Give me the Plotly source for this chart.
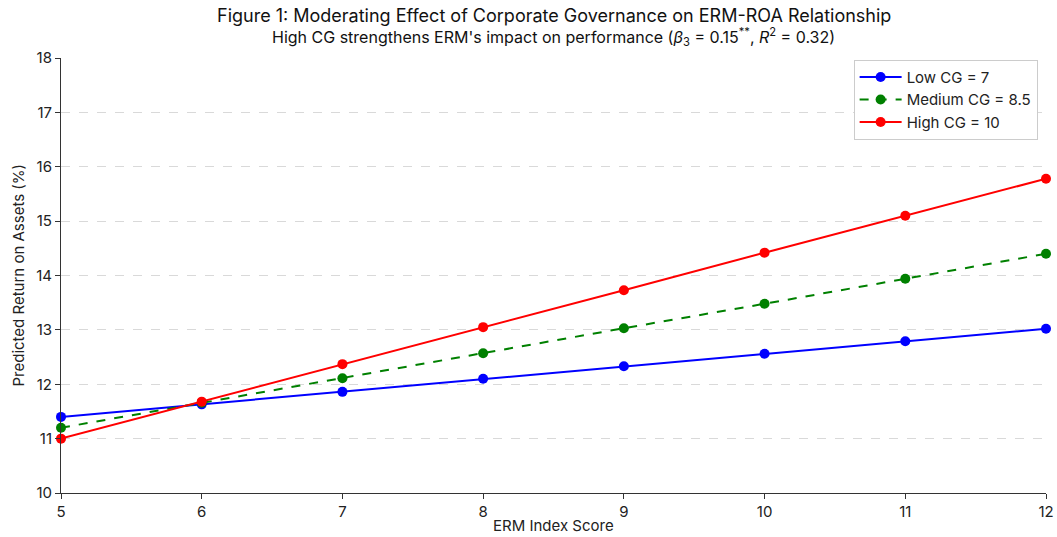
import plotly.graph_objects as go

# ERM index scores on the x axis
erm_scores = [5, 6, 7, 8, 9, 10, 11, 12]

# Predicted ROA (%) at three levels of corporate governance
roa_low_cg = [11.40, 11.63, 11.86, 12.10, 12.33, 12.56, 12.79, 13.02]
roa_medium_cg = [11.20, 11.66, 12.11, 12.57, 13.03, 13.48, 13.94, 14.40]
roa_high_cg = [11.00, 11.68, 12.37, 13.05, 13.73, 14.42, 15.10, 15.78]

series_names = ["Low CG = 7", "Medium CG = 8.5", "High CG = 10"]
series_colors = ["#0000ff", "#008000", "#ff0000"]
series_dashes = ["solid", "dash", "solid"]

x_ticks = [5, 6, 7, 8, 9, 10, 11, 12]
y_ticks = [10, 11, 12, 13, 14, 15, 16, 17, 18]

title_text = "Figure 1: Moderating Effect of Corporate Governance on ERM-ROA Relationship"
subtitle_text = ("High CG strengthens ERM's impact on performance "
                 "(<i>β</i><sub>3</sub> = 0.15<sup>**</sup>, <i>R</i><sup>2</sup> = 0.32)")
x_title = "ERM Index Score"
y_title = "Predicted Return on Assets (%)"

FONT = "Inter, Roboto, sans-serif"

# Plot area in pixels: left 61, right 1046, top 58, bottom 493
M_L, M_R, M_T, M_B = 61, 11, 58, 44
PLOT_H = 537 - M_T - M_B
PLOT_W = 1057 - M_L - M_R

fig = go.Figure()
for name, ys, color, dash in zip(series_names,
                                 [roa_low_cg, roa_medium_cg, roa_high_cg],
                                 series_colors, series_dashes):
    fig.add_trace(go.Scatter(
        x=erm_scores, y=ys, name=name, mode="lines+markers",
        line=dict(color=color, width=2, dash=dash),
        marker=dict(color=color, size=10),
        cliponaxis=False,
    ))

annotations = [
    dict(text=title_text, x=0.5, y=1 + (M_T - 15) / PLOT_H, xref="paper", yref="paper",
         xanchor="center", yanchor="middle", showarrow=False,
         font=dict(size=18, family=FONT, color="#111111")),
    dict(text=subtitle_text, x=0.5, y=1 + (M_T - 37) / PLOT_H, xref="paper", yref="paper",
         xanchor="center", yanchor="middle", showarrow=False,
         font=dict(size=16, family=FONT, color="#111111")),
    dict(text=x_title, x=0.5, y=-(525 - (537 - M_B)) / PLOT_H, xref="paper", yref="paper",
         xanchor="center", yanchor="middle", showarrow=False,
         font=dict(size=15, family=FONT, color="#222222")),
    dict(text=y_title, x=-(M_L - 18) / PLOT_W, y=0.5, xref="paper", yref="paper",
         xanchor="center", yanchor="middle", showarrow=False, textangle=-90,
         font=dict(size=15, family=FONT, color="#222222")),
]

fig.update_layout(
    width=1057, height=537,
    margin=dict(l=M_L, r=M_R, t=M_T, b=M_B, autoexpand=False),
    paper_bgcolor="white", plot_bgcolor="white",
    font=dict(family=FONT, color="#222222", size=14),
    annotations=annotations,
    legend=dict(
        x=0.9915, y=0.996, xanchor="right", yanchor="top",
        bgcolor="white", bordercolor="#cccccc", borderwidth=1,
        font=dict(size=15, family=FONT, color="#222222"),
        itemwidth=42, tracegroupgap=0,
    ),
    showlegend=True,
)

fig.update_xaxes(
    range=[5, 12], tickvals=x_ticks, automargin=False,
    showline=True, linecolor="#333333", linewidth=1,
    ticks="outside", ticklen=5, tickcolor="#333333",
    tickfont=dict(size=15), showgrid=False, zeroline=False,
)
fig.update_yaxes(
    range=[10, 18], tickvals=y_ticks, automargin=False,
    showline=True, linecolor="#333333", linewidth=1,
    ticks="outside", ticklen=5, tickcolor="#333333",
    tickfont=dict(size=15), showgrid=True, gridcolor="#d9d9d9",
    griddash="dash", gridwidth=1, zeroline=False,
)

fig.write_html("out.html")
